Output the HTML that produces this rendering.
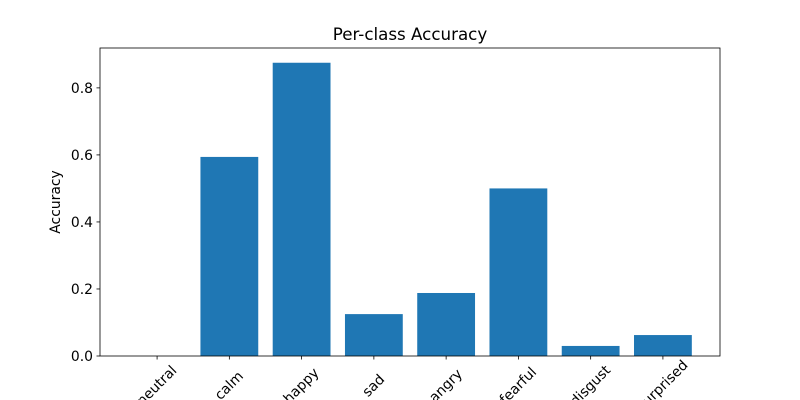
<!DOCTYPE html>
<html><head><meta charset="utf-8"><style>body{margin:0;background:#fff}svg{display:block}text{font-family:"DejaVu Sans","Liberation Sans",sans-serif;fill:#000}</style></head>
<body>
<svg id="chart" width="800" height="400">
<rect x="0" y="0" width="800" height="400" fill="#fff"/>
<text x="410" y="40" font-size="16.7" text-anchor="middle">Per-class Accuracy</text>
<text transform="translate(60,202) rotate(-90)" font-size="13.9" text-anchor="middle">Accuracy</text>
<g id="bars"></g><g id="yticks"></g><g id="xticks"></g>
<rect x="100" y="48" width="620" height="308" fill="none" stroke="#000" stroke-width="0.8"/>
</svg>
<script>
const categories=["neutral","calm","happy","sad","angry","fearful","disgust","surprised"];
const values=[0,0.594,0.875,0.125,0.188,0.5,0.03,0.0625];
const yTicks=[0,0.2,0.4,0.6,0.8];
const yTickLabels=["0.0","0.2","0.4","0.6","0.8"];
const NS="http://www.w3.org/2000/svg";
const L=100,R=720,T=48,B=356,xmin=-0.79,xmax=categories.length-1+0.79,ymax=0.919;
const xs=v=>L+(v-xmin)/(xmax-xmin)*(R-L);
const ys=v=>B-v/ymax*(B-T);
const bw=0.8*(R-L)/(xmax-xmin);
const bars=document.getElementById('bars'),yt=document.getElementById('yticks'),xt=document.getElementById('xticks');
function mk(t,a){const e=document.createElementNS(NS,t);for(const k in a)e.setAttribute(k,a[k]);return e;}
categories.forEach((c,i)=>{
 const r=mk('rect',{x:xs(i)-bw/2,y:ys(values[i]),width:bw,height:B-ys(values[i]),fill:'#1f77b4'});
 
 
 bars.appendChild(r);
 const tk=mk('line',{x1:xs(i),x2:xs(i),y1:B,y2:B+3.5,stroke:'#000','stroke-width':0.8});
 
 
 xt.appendChild(tk);
 const tx=mk('text',{x:0,y:0,'font-size':13.9,'text-anchor':'middle','dominant-baseline':'middle',transform:`translate(${xs(i)},${386}) rotate(-45)`});
 tx.textContent=c;
 
 
 xt.appendChild(tx);
});
yTicks.forEach((v,i)=>{
 const tk=mk('line',{x1:L-3.5,x2:L,y1:ys(v),y2:ys(v),stroke:'#000','stroke-width':0.8});
 
 
 yt.appendChild(tk);
 const tx=mk('text',{x:L-7,y:ys(v)+5,'font-size':13.9,'text-anchor':'end'});
 tx.textContent=yTickLabels[i];
 
 
 yt.appendChild(tx);
});
</script>
</body></html>
